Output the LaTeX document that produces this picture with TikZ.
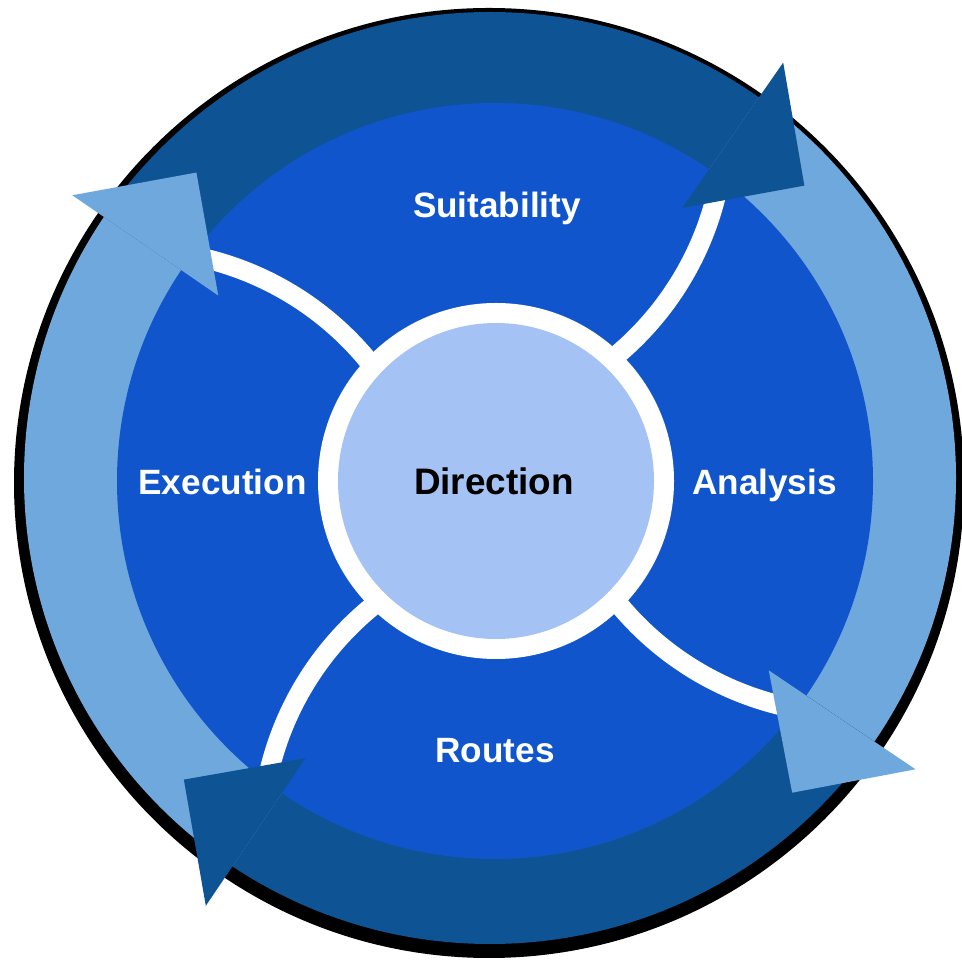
\documentclass[tikz,border=0pt]{standalone}
\usepackage{fontspec}
\setmainfont{Liberation Sans}
\definecolor{bandDark}{HTML}{0E5394}
\definecolor{bandLight}{HTML}{6FA8DC}
\definecolor{discBlue}{HTML}{1155CC}
\definecolor{coreBlue}{HTML}{A4C2F4}
\begin{document}
\begin{tikzpicture}[x=0.02cm,y=0.02cm,
  lbl/.style={font=\bfseries\fontsize{20}{24}\selectfont, text=white, anchor=base, inner sep=0pt},
  spokeline/.style={draw=white, line width=0.39cm, line cap=butt}]
\useasboundingbox (0,0) rectangle (961,963);
\fill[white] (0,0) rectangle (961,963);
% black outer ring
\fill[black] (489,480) circle[radius=475];
% coloured band
\begin{scope}
  \clip (490,485) circle[radius=466];
  \begin{scope}[shift={(491,480)}]
    \fill[bandDark] (0,0) -- (55.2:600) arc[start angle=55.2, end angle=145.5, radius=600] -- cycle;
    \fill[bandLight] (0,0) -- (-34:600) arc[start angle=-34, end angle=55.2, radius=600] -- cycle;
    \fill[bandDark] (0,0) -- (-124:600) arc[start angle=-124, end angle=-34, radius=600] -- cycle;
    \fill[bandLight] (0,0) -- (145.5:600) arc[start angle=145.5, end angle=236, radius=600] -- cycle;
  \end{scope}
\end{scope}
% inner disc
\fill[discBlue] (495,482) circle[radius=378];
% spokes
\begin{scope}
  \clip (495,482) circle[radius=378];
  \foreach \a in {0,-90,180,90}{
    \draw[spokeline, shift={(493,481)}, rotate=\a]
      (115.5,120.2) arc[start angle=-52, end angle=-6, radius=303];
  }
\end{scope}
% centre disc
\fill[white] (496,482) circle[radius=178];
\fill[coreBlue] (496,482) circle[radius=158];
% labels
\node[lbl] (suit) at (497,745) {Suitability};
\node[lbl, text=black, font=\bfseries\fontsize{21}{25}\selectfont] (dir) at (494,468) {Direction};
\node[lbl] (exe) at (222.5,468) {Execution};
\node[lbl] (ana) at (764.5,468) {Analysis};
\node[lbl] (rou) at (495,200) {Routes};
% arrowheads
\begin{scope}[shift={(491,480)}]
  \fill[bandDark] (55.2:335) -- (55.2:512) -- (43.5:432) -- cycle;
  \fill[bandLight] (-34:335) -- (-34:512) -- (-45.8:432) -- cycle;
  \fill[bandDark] (-124:332) -- (-124:510) -- (-136:427) -- cycle;
  \fill[bandLight] (145.5:331) -- (145.5:508) -- (133.5:428) -- cycle;
\end{scope}
\end{tikzpicture}
\end{document}
